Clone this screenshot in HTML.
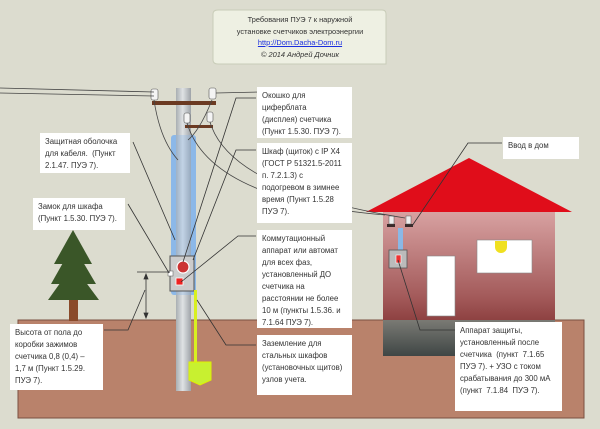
<!DOCTYPE html>
<html><head><meta charset="utf-8"><style>
body{margin:0;width:600px;height:429px;background:#dcdccf;font-family:"Liberation Sans","Noto Sans CJK SC",sans-serif;overflow:hidden;position:relative}
.l{position:absolute;background:#fff;font-size:7.8px;line-height:12px;color:#333;padding:3px 5px;box-sizing:border-box;white-space:nowrap}
</style></head><body>
<svg width="600" height="429" style="position:absolute;left:0;top:0">
<defs>
<linearGradient id="pole" x1="0" x2="1"><stop offset="0" stop-color="#a9aeb2"/><stop offset=".45" stop-color="#dfe2e4"/><stop offset="1" stop-color="#9ea3a8"/></linearGradient>
<linearGradient id="house" x1="0" y1="0" x2="0" y2="1"><stop offset="0" stop-color="#d9a3a3"/><stop offset=".6" stop-color="#a35a5a"/><stop offset="1" stop-color="#6e1c1c"/></linearGradient>
<linearGradient id="fund" x1="0" y1="0" x2="0" y2="1"><stop offset="0" stop-color="#7a7a74"/><stop offset="1" stop-color="#3f4645"/></linearGradient>
</defs>
<rect x="18" y="320" width="566" height="98" fill="#b9826b" stroke="#7a5040"/>
<path d="M213 14 Q213 10 218 10 L382 10 Q386 10 386 14 L386 64 L218 64 Q213 64 213 60 Z" fill="#eef0e3" stroke="#c8ccb8"/>
<rect x="69" y="296" width="9" height="25" fill="#8a4a2a"/>
<polygon points="73,230 54,264 92,264" fill="#3a5628"/>
<polygon points="73,245 51,284 96,284" fill="#3a5628"/>
<polygon points="73,265 48,300 99,300" fill="#3a5628"/>
<rect x="383" y="210" width="172" height="145" fill="url(#house)"/>
<rect x="383" y="320" width="172" height="36" fill="url(#fund)"/>
<polygon points="469,158 366,212 572,212" fill="#e00d1a"/>
<rect x="477" y="240" width="55" height="33" fill="#fff" stroke="#888" stroke-width=".6"/>
<path d="M495 241 h12 v6 a6 6 0 0 1 -12 0z" fill="#f0e020"/>
<rect x="427" y="256" width="28" height="60" fill="#fff" stroke="#888" stroke-width=".6"/>
<rect x="398" y="228" width="5" height="30" fill="#8ab8e6"/>
<rect x="389" y="250" width="18" height="18" fill="#bbb" stroke="#555" stroke-width=".8"/>
<rect x="396" y="255" width="5" height="8" fill="#e33" stroke="#fff" stroke-width=".6"/>
<rect x="387" y="224" width="8" height="3" fill="#3a2a2a"/><rect x="405" y="224" width="8" height="3" fill="#3a2a2a"/>
<rect x="389" y="216" width="5" height="8" fill="#eee" stroke="#555" stroke-width=".5"/><rect x="406" y="216" width="5" height="8" fill="#eee" stroke="#555" stroke-width=".5"/>
<rect x="171" y="135" width="25" height="160" rx="3" fill="#8cb8e8"/>
<rect x="176" y="88" width="15" height="303" fill="url(#pole)"/>
<rect x="176" y="135" width="15" height="160" fill="#8cb8e8" opacity=".35"/>
<rect x="152" y="101" width="64" height="4" fill="#6b3a22"/>
<rect x="185" y="125" width="28" height="3" fill="#6b3a22"/>
<rect x="151" y="89" width="7" height="11" rx="2" fill="#f4f4f4" stroke="#555" stroke-width=".6"/>
<rect x="209" y="88" width="7" height="11" rx="2" fill="#f4f4f4" stroke="#555" stroke-width=".6"/>
<rect x="184" y="113" width="6" height="10" rx="2" fill="#f4f4f4" stroke="#555" stroke-width=".6"/>
<rect x="207" y="112" width="6" height="10" rx="2" fill="#f4f4f4" stroke="#555" stroke-width=".6"/>
<g fill="none" stroke="#444" stroke-width=".8">
<path d="M0 88 L154 92"/><path d="M0 93 L154 96"/>
<path d="M216 93 L260 92"/>
<path d="M154 100 Q160 140 178 160"/><path d="M212 100 Q200 130 188 140"/>
<path d="M187 123 Q210 200 385 215"/><path d="M210 122 Q230 190 405 218"/>
</g>
<rect x="170" y="256" width="24" height="35" fill="#ccc" stroke="#555" stroke-width="1"/>
<circle cx="183" cy="267" r="6" fill="#c33" stroke="#fff" stroke-width="1.2"/>
<rect x="176" y="278" width="7" height="7" fill="#e22" stroke="#fff" stroke-width=".8"/>
<rect x="168" y="271" width="5" height="5" fill="#fff" stroke="#555" stroke-width=".5"/>
<rect x="194" y="290" width="3" height="74" fill="#d8f020"/>
<polygon points="189,362 211,362 211,380 200,385 189,380" fill="#c8f030" stroke="#e0f000"/>
<g stroke="#333" stroke-width=".8" fill="none">
<line x1="137" y1="272" x2="170" y2="272"/><line x1="146" y1="274" x2="146" y2="318"/>
<polygon points="144,279 148,279 146,274" fill="#333"/><polygon points="144,313 148,313 146,318" fill="#333"/>
<path d="M133 142 L175 240"/>
<path d="M128 204 L169 273"/>
<path d="M104 330 L128 330 L145 290"/>
<path d="M256 98 L236 98 L183 262"/>
<path d="M256 150 L236 150 L193 260"/>
<path d="M256 236 L238 236 L181 282"/>
<path d="M256 345 L226 345 L197 300"/>
<path d="M502 143 L468 143 L412 226"/>
<path d="M455 330 L420 330 L398 260"/>
</g>
</svg>
<div style="position:absolute;left:215px;top:14px;width:170px;text-align:center;font-size:7.4px;line-height:11.5px;color:#333">Требования ПУЭ 7 к наружной<br>установке счетчиков электроэнергии<br><span style="color:#1a2ee0;text-decoration:underline">http://Dom.Dacha-Dom.ru</span><br><i>© 2014 Андрей Дочник</i></div>
<div class="l" style="left:40px;top:133px;width:90px;height:40px">Защитная оболочка<br>для кабеля.&nbsp; (Пункт<br>2.1.47. ПУЭ 7).</div>
<div class="l" style="left:33px;top:198px;width:92px;height:32px">Замок для шкафа<br>(Пункт 1.5.30. ПУЭ 7).</div>
<div class="l" style="left:10px;top:324px;width:93px;height:66px">Высота от пола до<br>коробки зажимов<br>счетчика 0,8 (0,4) –<br>1,7 м (Пункт 1.5.29.<br>ПУЭ 7).</div>
<div class="l" style="left:257px;top:87px;width:95px;height:51px">Окошко для<br>циферблата<br>(дисплея) счетчика<br>(Пункт 1.5.30. ПУЭ 7).</div>
<div class="l" style="left:257px;top:143px;width:95px;height:80px">Шкаф (щиток) с IP X4<br>(ГОСТ Р 51321.5-2011<br>п. 7.2.1.3) с<br>подогревом в зимнее<br>время (Пункт 1.5.28<br>ПУЭ 7).</div>
<div class="l" style="left:257px;top:230px;width:95px;height:98px">Коммутационный<br>аппарат или автомат<br>для всех фаз,<br>установленный ДО<br>счетчика на<br>расстоянии не более<br>10 м (пункты 1.5.36. и<br>7.1.64 ПУЭ 7).</div>
<div class="l" style="left:257px;top:335px;width:95px;height:60px">Заземление для<br>стальных шкафов<br>(установочных щитов)<br>узлов учета.</div>
<div class="l" style="left:503px;top:137px;width:76px;height:22px">Ввод в дом</div>
<div class="l" style="left:455px;top:322px;width:107px;height:89px">Аппарат защиты,<br>установленный после<br>счетчика&nbsp; (пункт&nbsp; 7.1.65<br>ПУЭ 7). + УЗО с током<br>срабатывания до 300 мА<br>(пункт&nbsp; 7.1.84&nbsp; ПУЭ 7).</div>
</body></html>
